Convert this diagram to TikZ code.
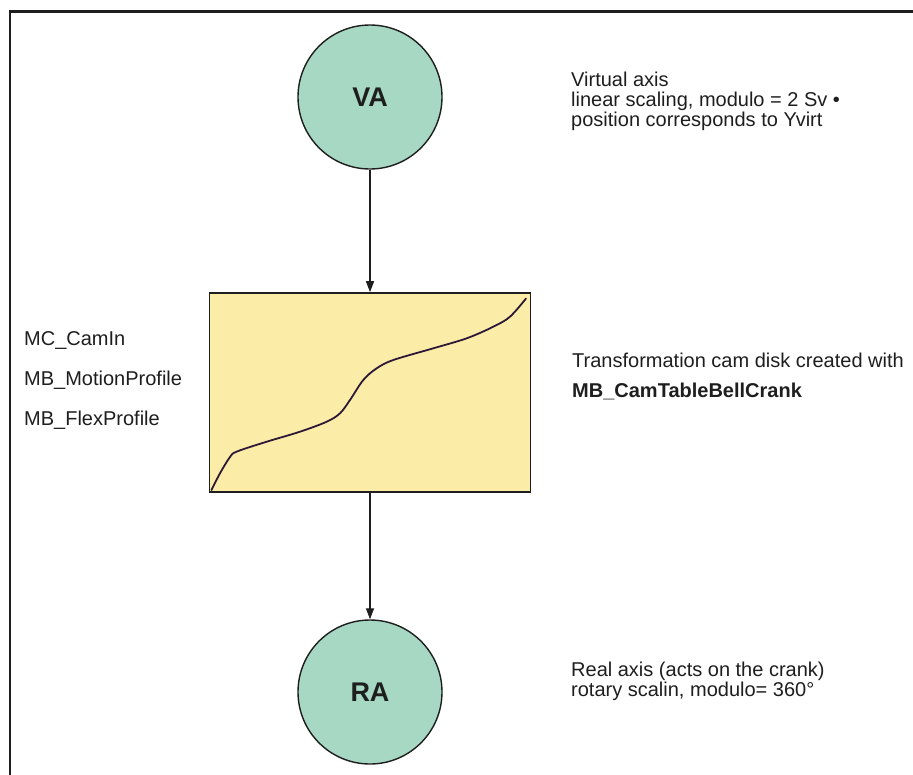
\documentclass[tikz,border=0pt]{standalone}
\usepackage{fontspec}
\setmainfont{Liberation Sans}
\usetikzlibrary{arrows.meta}
\definecolor{axisfill}{RGB}{166,216,196}
\definecolor{camfill}{RGB}{251,237,168}
\definecolor{curvecol}{RGB}{45,25,55}
\definecolor{inkcol}{RGB}{30,30,30}
\begin{document}
\begin{tikzpicture}[x=1pt,y=-1pt,
  axisnode/.style={circle, draw=inkcol, line width=1.4pt, fill=axisfill,
    minimum size=144pt, inner sep=0pt, text=inkcol,
    font=\fontsize{27}{27}\selectfont\bfseries},
  cambox/.style={rectangle, draw=inkcol, line width=1.6pt, fill=camfill,
    minimum width=321pt, minimum height=199pt, inner sep=0pt},
  note/.style={anchor=base west, inner sep=0pt, text=inkcol,
    font=\fontsize{20}{20}\selectfont},
  boldnote/.style={note, font=\fontsize{20}{20}\selectfont\bfseries},
  flow/.style={draw=inkcol, line width=1.3pt, -{Triangle[length=11pt,width=8pt]}}]
\useasboundingbox (0,0) rectangle (913,774);

% outer frame (top and left edges)
\draw[line width=2.5pt, line join=miter, inkcol] (915,11.5) -- (10,11.5) -- (10,776);

% axes and cam disk
\node[axisnode] (VA) at (370,97) {VA};
\node[cambox] (cam) at (370,392.5) {};
\node[axisnode] (RA) at (370,692) {RA};

% cam profile
\draw[curvecol, line width=1.8pt, line cap=round]
  plot[smooth, tension=0.55] coordinates {
    (211.5,490) (220,473.3) (230,457) (237,451.5) (266.7,441.7) (300,431.7)
    (326.7,421.7) (340,413.3) (350,400) (363.3,380) (376.7,368.3) (393.3,360)
    (433.3,348.3) (466.7,338.3) (493.3,326.7) (510,316.7) (526,298.5)};

% connectors
\draw[flow] (VA) -- (cam);
\draw[flow] (cam) -- (RA);

% annotations
\node[note] (va1) at (571,86.7) {Virtual axis};
\node[note] (va2) at (571,106.5) {linear scaling, modulo = 2 Sv •};
\node[note] (va3) at (571,126.5) {position corresponds to Yvirt};

\node[note] (f1) at (24,345) {MC\_CamIn};
\node[note] (f2) at (24,385) {MB\_MotionProfile};
\node[note] (f3) at (24,425) {MB\_FlexProfile};

\node[note] (cam1) at (572,367) {Transformation cam disk created with};
\node[boldnote] (cam2) at (572,397) {MB\_CamTableBellCrank};

\node[note] (ra1) at (571,676.5) {Real axis (acts on the crank)};
\node[note] (ra2) at (571,696.5) {rotary scalin, modulo= 360°};
\end{tikzpicture}
\end{document}
